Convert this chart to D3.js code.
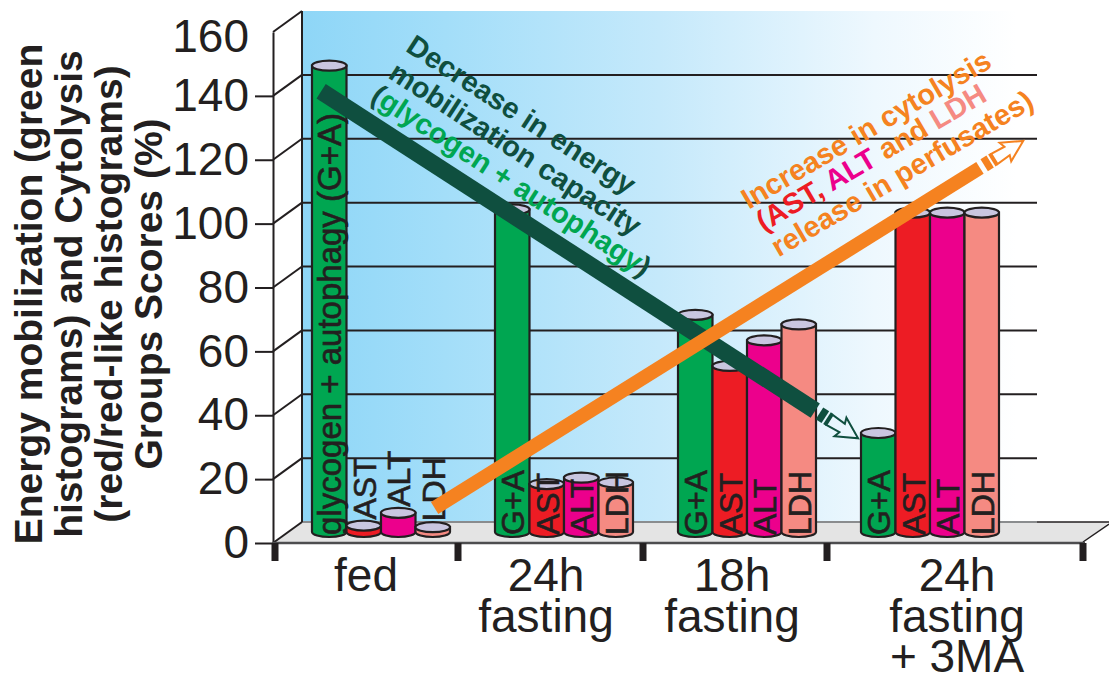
<!DOCTYPE html>
<html>
<head>
<meta charset="utf-8">
<script src="https://cdn.jsdelivr.net/npm/d3@7"></script>
<style>
  html, body { margin: 0; padding: 0; background: #fff; }
  text { font-family: "Liberation Sans", Arial, sans-serif; }
</style>
</head>
<body>
<svg width="1109" height="675"></svg>
<script>
var groups = ["fed", "24h fasting", "18h fasting", "24h fasting + 3MA"];
var groupLines = [["fed"], ["24h", "fasting"], ["18h", "fasting"], ["24h", "fasting", "+ 3MA"]];
var series = ["G+A", "AST", "ALT", "LDH"];
var glycogenValues = [146, 101, 68, 31];
var astValues = [2, 15, 52, 100];
var altValues = [6, 17, 60, 100];
var ldhValues = [1.5, 15.5, 65, 100];
var yTicks = [0, 20, 40, 60, 80, 100, 120, 140, 160];
var decreaseTrend = [[0.05, 138], [2.75, 38]];
var increaseTrend = [[0.67, 7.5], [3.65, 114]];

var seriesColor = { "G+A": "#00a651", "AST": "#ed1c24", "ALT": "#ec008c", "LDH": "#f58a82" };
var ink = "#231f20", darkGreen = "#0f4f3f", orange = "#f58220";

var svg = d3.select("svg");

// front edge of the box, back wall is shifted up and right
var yFront = d3.scaleLinear().domain([0, 160]).range([543, 32]);
var depthX = 29, depthY = 21;
var yBack = function(v) { return yFront(v) - depthY; };
var yBar = function(v) { return yFront(v) - 11; };

var x0 = d3.scaleBand().domain(groups).range([274, 1006]);
var x1 = d3.scaleBand().domain(series).range([38, 176]);
var groupPos = d3.scaleLinear().domain([0, 1]).range([312, 495]);
var xTick = d3.scaleLinear().domain([0, 1, 2, 3, 4]).range([275, 458, 643, 827, 1083]);

var defs = svg.append("defs");
var grad = defs.append("linearGradient").attr("id", "wall");
[[0, "#8ed6f7"], [0.2, "#a3def9"], [0.5, "#c5e9fb"], [0.8, "#eef8fe"], [1, "#ffffff"]].forEach(function(s) {
  grad.append("stop").attr("offset", s[0]).attr("stop-color", s[1]);
});

// back wall and floor
svg.append("rect").attr("x", 302).attr("y", yBack(160)).attr("width", 715)
  .attr("height", yBack(0) - yBack(160)).attr("fill", "url(#wall)");
svg.append("path")
  .attr("d", d3.line()([[275, 543], [302, 522], [1109, 522], [1083, 543]]))
  .attr("fill", "#e4e4e4");
svg.append("line").attr("x1", 302).attr("x2", 1037).attr("y1", 522).attr("y2", 522)
  .attr("stroke", "#8a8c8e").attr("stroke-width", 2);
svg.append("line").attr("x1", 1037).attr("x2", 1109).attr("y1", 522).attr("y2", 522)
  .attr("stroke", ink).attr("stroke-width", 1.5);
svg.append("line").attr("x1", 1083).attr("x2", 1109).attr("y1", 542).attr("y2", 524)
  .attr("stroke", ink).attr("stroke-width", 1.5);

// gridlines on back wall, diagonals on the side wall
svg.append("g").selectAll("line").data(yTicks.slice(1, 8)).enter().append("line")
  .attr("x1", 302).attr("x2", 1037)
  .attr("y1", yBack).attr("y2", yBack)
  .attr("stroke", ink).attr("stroke-width", 2);
svg.append("g").selectAll("line").data(yTicks).enter().append("line")
  .attr("x1", 273).attr("x2", 273 + depthX)
  .attr("y1", function(d) { return yFront(d); })
  .attr("y2", yBack)
  .attr("stroke", ink).attr("stroke-width", 2);
svg.append("line").attr("x1", 302).attr("x2", 302).attr("y1", yBack(160)).attr("y2", yBack(0))
  .attr("stroke", ink).attr("stroke-width", 2);

// y axis
var yAxis = d3.axisLeft(yFront).tickValues(yTicks).tickSize(18).tickPadding(6).tickSizeOuter(0);
var yG = svg.append("g").attr("transform", "translate(273,0)").call(yAxis);
yG.select(".domain").attr("stroke", ink).attr("stroke-width", 2);
yG.selectAll("line").attr("stroke", ink).attr("stroke-width", 2);
yG.selectAll(".tick").filter(function(d) { return d === 160; }).select("line").remove();
yG.selectAll("text").attr("font-size", 46).attr("fill", ink);
yG.selectAll(".tick").filter(function(d) { return d === 160; }).select("text").attr("dy", "0.42em");

// x axis
svg.append("line").attr("x1", 272).attr("x2", 1085).attr("y1", 543).attr("y2", 543)
  .attr("stroke", "#4d4d4f").attr("stroke-width", 2.5);
svg.append("g").selectAll("rect").data(d3.range(5)).enter().append("rect")
  .attr("x", function(d) { return xTick(d) - 3.5; })
  .attr("y", 543).attr("width", 7).attr("height", 18).attr("fill", ink);

var catCenters = d3.scaleOrdinal().domain(groups).range([366, 546, 732, 957]);
groups.forEach(function(g, i) {
  groupLines[i].forEach(function(t, j) {
    svg.append("text").attr("x", catCenters(g)).attr("y", 591 + j * 40.5)
      .attr("text-anchor", "middle").attr("font-size", 46).attr("fill", ink).text(t);
  });
});

// bars
var barRows = [];
groups.forEach(function(g, i) {
  series.forEach(function(s, j) {
    var vals = [glycogenValues, astValues, altValues, ldhValues][j];
    barRows.push({ group: g, name: s, value: vals[i], first: i === 0 });
  });
});

var rx = x1.bandwidth() / 2, ry = 5;
var barG = svg.append("g").selectAll("g").data(barRows).enter().append("g")
  .attr("transform", function(d) { return "translate(" + (x0(d.group) + x1(d.name) + rx) + ",0)"; });

barG.append("path")
  .attr("d", function(d) {
    var t = yBar(d.value), b = yBar(0);
    return "M" + (-rx) + "," + t + "L" + (-rx) + "," + b +
      "A" + rx + "," + ry + " 0 0 0 " + rx + "," + b + "L" + rx + "," + t + "Z";
  })
  .attr("fill", function(d) { return seriesColor[d.name]; })
  .attr("stroke", ink).attr("stroke-width", 2.2);
barG.append("ellipse")
  .attr("cy", function(d) { return yBar(d.value); })
  .attr("rx", rx).attr("ry", ry)
  .attr("fill", "#c9c6e0").attr("stroke", ink).attr("stroke-width", 2.2);

barG.append("text")
  .attr("transform", function(d) {
    var y = d.first && d.name !== "G+A" ? yBar(d.value) - 6 : 535;
    return "translate(12," + y + ") rotate(-90)";
  })
  .attr("font-size", function(d) { return d.first && d.name === "G+A" ? 33 : 32; })
  .attr("fill", ink).attr("stroke", ink).attr("stroke-width", 0.6)
  .text(function(d) { return d.first && d.name === "G+A" ? "glycogen + autophagy (G+A)" : d.name; });

// trend arrows
var trendLine = d3.line()
  .x(function(d) { return groupPos(d[0]); })
  .y(function(d) { return yBar(d[1]); });

function drawTrend(data, color, width) {
  svg.append("path").attr("d", trendLine(data)).attr("fill", "none")
    .attr("stroke", color).attr("stroke-width", width);
  var a = data[0], b = data[1];
  var ex = groupPos(b[0]), ey = yBar(b[1]);
  var ang = Math.atan2(ey - yBar(a[1]), ex - groupPos(a[0])) * 180 / Math.PI;
  var head = svg.append("g").attr("transform", "translate(" + ex + "," + ey + ") rotate(" + ang + ")");
  head.append("rect").attr("x", 5).attr("y", -7).attr("width", 7).attr("height", 14).attr("fill", color);
  head.append("rect").attr("x", 14).attr("y", -7).attr("width", 3).attr("height", 14).attr("fill", color);
  head.append("path")
    .attr("d", "M17,-6L17,6L32,5L30,11L51,0L30,-11L32,-5Z")
    .attr("fill", "none").attr("stroke", color).attr("stroke-width", 2);
}
drawTrend(decreaseTrend, darkGreen, 17);
drawTrend(increaseTrend, orange, 14);

// rotated captions
function caption(x, y, angle, parts) {
  var t = svg.append("text").attr("transform", "translate(" + x + "," + y + ") rotate(" + angle + ")")
    .attr("text-anchor", "middle").attr("font-size", 29).attr("font-weight", "bold");
  parts.forEach(function(p) { t.append("tspan").attr("fill", p[1]).text(p[0]); });
}
caption(516, 123, 33, [["Decrease in energy", darkGreen]]);
caption(510, 157, 33, [["mobilization capacity", darkGreen]]);
caption(506, 189, 33, [["(", darkGreen], ["glycogen + autophagy", "#00a651"], [")", darkGreen]]);
caption(871, 138, -30.4, [["Increase in cytolysis", orange]]);
caption(876, 166, -30.4, [["(AST, ", "#ed1c24"], ["ALT", "#ec008c"], [" and ", orange], ["LDH", "#f58a82"]]);
caption(907, 182, -30.4, [["release in perfusates)", orange]]);

// y title
var titleLines = ["Energy mobilization (green", "histograms) and Cytolysis", "(red/red-like histograms)", "Groups Scores (%)"];
var titleX = d3.scaleLinear().domain([0, 3]).range([42, 162]);
titleLines.forEach(function(t, i) {
  svg.append("text").attr("transform", "translate(" + titleX(i) + ",294) rotate(-90)")
    .attr("text-anchor", "middle").attr("font-size", 39).attr("font-weight", "bold")
    .attr("fill", ink).text(t);
});
</script>
</body>
</html>
